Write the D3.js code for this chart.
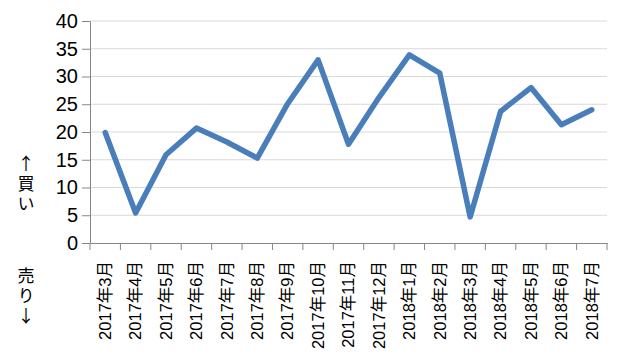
<!DOCTYPE html>
<html>
  <head>
    <meta charset="utf-8">
    <script src="https://d3js.org/d3.v7.min.js"></script>
    <style>
      body { margin: 0; background: #fff; }
      text { font-family: "Liberation Sans", Arial, "Noto Sans CJK JP", sans-serif; fill: #000; }
    </style>
  </head>
  <body>
    <svg id="chart" width="625" height="364"></svg>
    <script>
      let months = ["2017年3月", "2017年4月", "2017年5月", "2017年6月", "2017年7月", "2017年8月",
        "2017年9月", "2017年10月", "2017年11月", "2017年12月", "2018年1月", "2018年2月",
        "2018年3月", "2018年4月", "2018年5月", "2018年6月", "2018年7月"];
      let values = [19.9, 5.4, 15.9, 20.7, 18.2, 15.3, 25.1, 33.0, 17.8, 26.2, 33.9, 30.6,
        4.7, 23.7, 28.0, 21.3, 24.0];
      let yTicks = [0, 5, 10, 15, 20, 25, 30, 35, 40];
      let buyLabel = "↑買い";
      let sellLabel = "売り↓";

      let svg = d3.select("#chart");
      let plotLeft = 90, plotRight = 607, plotTop = 21, plotBottom = 243;

      let x = d3.scaleBand().domain(months).range([plotLeft, plotRight]);
      let y = d3.scaleLinear().domain([0, 40]).range([plotBottom, plotTop]);

      // gridlines
      svg.append("g")
        .selectAll("line")
        .data(yTicks.slice(1))
        .enter()
        .append("line")
        .attr("x1", plotLeft)
        .attr("x2", plotRight)
        .attr("y1", (d) => y(d))
        .attr("y2", (d) => y(d))
        .style("stroke", "#d9d9d9")
        .style("stroke-width", 1);

      // y axis
      let yAxis = svg.append("g")
        .attr("transform", `translate(${plotLeft},0)`)
        .call(d3.axisLeft(y).tickValues(yTicks).tickSize(8).tickSizeOuter(0).tickPadding(4));
      yAxis.select(".domain").style("stroke", "#868686");
      yAxis.selectAll(".tick line").style("stroke", "#868686");
      yAxis.selectAll("text").style("font-size", "20px").style("fill", "#000");

      // x axis
      let xAxis = svg.append("g")
        .attr("transform", `translate(0,${plotBottom})`)
        .call(d3.axisBottom(x).tickSize(0).tickSizeOuter(0));
      xAxis.select(".domain").style("stroke", "#868686");
      xAxis.selectAll(".tick line").remove();
      xAxis.selectAll("text")
        .style("font-size", "16.5px")
        .style("fill", "#000")
        .attr("text-anchor", "end")
        .attr("transform", "rotate(-90)")
        .attr("x", -18)
        .attr("y", 0)
        .attr("dy", "0.35em");

      // category boundary ticks
      svg.append("g")
        .selectAll("line")
        .data(months.concat(["end"]))
        .enter()
        .append("line")
        .attr("x1", (d, i) => i < months.length ? x(d) : plotRight)
        .attr("x2", (d, i) => i < months.length ? x(d) : plotRight)
        .attr("y1", plotBottom)
        .attr("y2", plotBottom + 7)
        .style("stroke", "#868686");

      // series line
      let line = d3.line()
        .x((d, i) => x(months[i]) + x.bandwidth() / 2)
        .y((d) => y(d));
      svg.append("path")
        .datum(values)
        .attr("d", line)
        .style("fill", "none")
        .style("stroke", "#4a7ebb")
        .style("stroke-width", 5.5)
        .style("stroke-linejoin", "round")
        .style("stroke-linecap", "round");

      // side labels, written top to bottom
      function vertical(label, y0) {
        svg.append("text")
          .attr("x", 26)
          .attr("y", y0)
          .style("writing-mode", "vertical-rl")
          .style("text-orientation", "upright")
          .style("letter-spacing", "3px")
          .style("font-size", "17px")
          .style("font-family", "'Noto Sans CJK JP', sans-serif")
          .text(label);
      }
      vertical(buyLabel, 155);
      vertical(sellLabel, 267);
    </script>
  </body>
</html>
